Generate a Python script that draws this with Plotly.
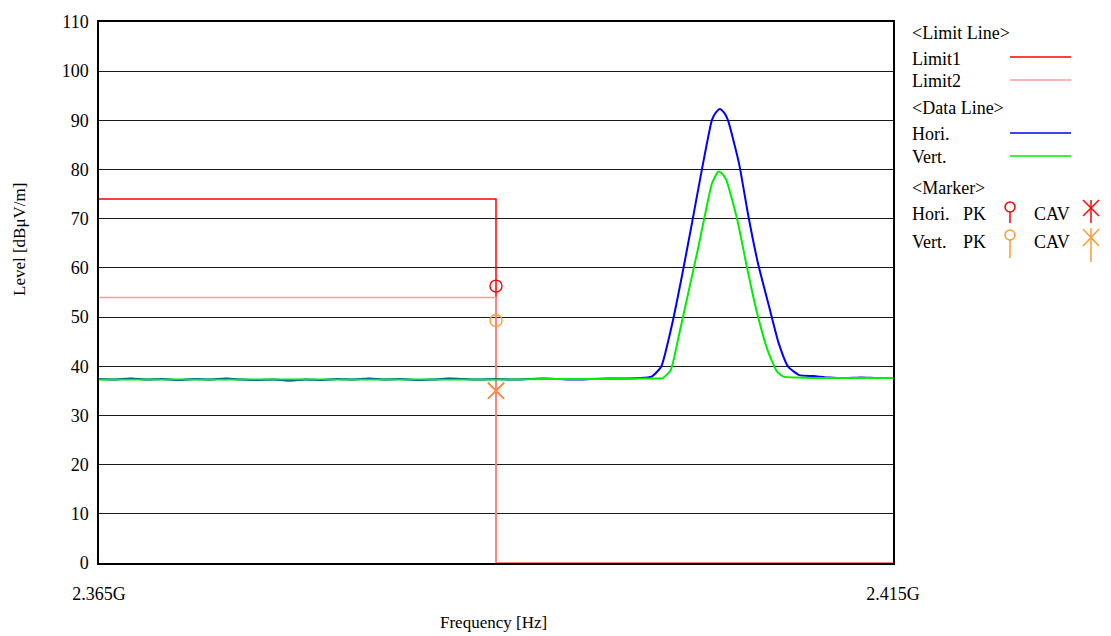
import plotly.graph_objects as go

# ---------------- data ----------------
hori_freq = [2.3650, 2.3660, 2.3670, 2.3680, 2.3690, 2.3700, 2.3710, 2.3720, 2.3730, 2.3740,
             2.3750, 2.3760, 2.3770, 2.3780, 2.3790, 2.3800, 2.3810, 2.3820, 2.3830, 2.3840,
             2.3850, 2.3860, 2.3870, 2.3880, 2.3890, 2.3900, 2.3910, 2.3920, 2.3930, 2.3940,
             2.3950, 2.3960, 2.3970, 2.3980, 2.3990, 2.3998, 2.4004, 2.4011, 2.4017, 2.4023,
             2.4030, 2.4036, 2.40385, 2.4041, 2.40435, 2.4046, 2.4053, 2.4059, 2.4065, 2.4072,
             2.4078, 2.4084, 2.4091, 2.4100, 2.4110, 2.4120, 2.4130, 2.4140, 2.4150]
hori_level = [37.4, 37.3, 37.5, 37.3, 37.4, 37.2, 37.4, 37.3, 37.5, 37.3,
              37.2, 37.3, 37.1, 37.3, 37.2, 37.4, 37.3, 37.5, 37.3, 37.4,
              37.2, 37.3, 37.5, 37.4, 37.3, 37.4, 37.3, 37.4, 37.5, 37.4,
              37.3, 37.4, 37.5, 37.5, 37.6, 37.9, 39.9, 48.7, 58.2, 68.4,
              80.6, 90.1, 91.6, 92.3, 91.6, 90.1, 81.3, 70.4, 60.9, 52.1,
              44.7, 39.9, 38.2, 38.0, 37.7, 37.6, 37.7, 37.6, 37.6]

vert_freq = [2.3650, 2.3670, 2.3690, 2.3710, 2.3730, 2.3750, 2.3770, 2.3790, 2.3810, 2.3830,
             2.3850, 2.3870, 2.3890, 2.3910, 2.3930, 2.3950, 2.3970, 2.3990, 2.4000, 2.4005,
             2.4010, 2.4015, 2.4021, 2.4027, 2.4034, 2.4036, 2.4040, 2.4042, 2.4045, 2.4052,
             2.4058, 2.4064, 2.4071, 2.4077, 2.4081, 2.4090, 2.4100, 2.4120, 2.4150]
vert_level = [37.3, 37.3, 37.3, 37.3, 37.3, 37.3, 37.3, 37.3, 37.3, 37.3,
              37.3, 37.3, 37.3, 37.3, 37.4, 37.4, 37.4, 37.5, 37.5, 37.6,
              39.2, 46.0, 54.8, 63.6, 74.5, 77.2, 79.6, 79.3, 77.9, 69.7,
              60.2, 51.4, 43.3, 38.9, 37.9, 37.7, 37.6, 37.6, 37.6]

limit_freq = [2.365, 2.390, 2.390, 2.415]
limit1_level = [74, 74, 0, 0]
limit2_level = [54, 54, 0, 0]

marker_freq = 2.390
hori_pk = 56.3
vert_pk = 49.3
hori_cav = 35.0
vert_cav = 35.0

x_ticks = [2.365, 2.415]
x_ticktext = ["2.365G", "2.415G"]

RED = "#ff0000"
PINK = "#ff9a9a"
BLUE = "#0000ff"
GREEN = "#00ee00"
ORANGE = "#ff9a33"
FONT = "Liberation Serif"

# ---------------- layout helpers (pixel -> paper) ----------------
L, R, T, B = 99, 893, 22, 563
def px(x):
    return (x - L) / (R - L)
def py(y):
    return (B - y) / (B - T)

fig = go.Figure()

fig.add_trace(go.Scatter(x=limit_freq, y=limit1_level, mode="lines",
                         line=dict(color=RED, width=1.5), showlegend=False, cliponaxis=False))
fig.add_trace(go.Scatter(x=limit_freq, y=limit2_level, mode="lines",
                         line=dict(color=PINK, width=1.5), showlegend=False, cliponaxis=False))
fig.add_trace(go.Scatter(x=hori_freq, y=hori_level, mode="lines",
                         line=dict(color=BLUE, width=2, shape="spline", smoothing=0.5),
                         showlegend=False))
fig.add_trace(go.Scatter(x=vert_freq, y=vert_level, mode="lines",
                         line=dict(color=GREEN, width=2, shape="spline", smoothing=0.5),
                         showlegend=False))

fig.add_trace(go.Scatter(x=[marker_freq], y=[hori_pk], mode="markers",
                         marker=dict(symbol="circle-open", size=12, color=RED, line=dict(width=1.4)),
                         showlegend=False))
fig.add_trace(go.Scatter(x=[marker_freq], y=[vert_pk], mode="markers",
                         marker=dict(symbol="circle-open", size=12, color=ORANGE, line=dict(width=1.4)),
                         showlegend=False))
fig.add_trace(go.Scatter(x=[marker_freq], y=[hori_cav], mode="markers",
                         marker=dict(symbol="x-thin-open", size=16, color=RED, line=dict(width=1.4, color=RED)),
                         showlegend=False))
fig.add_trace(go.Scatter(x=[marker_freq], y=[vert_cav], mode="markers",
                         marker=dict(symbol="x-thin-open", size=16, color=ORANGE, line=dict(width=1.4, color=ORANGE)),
                         showlegend=False))

# ---------------- custom legend ----------------
annotations = []
def txt(s, x, y, size=18, **kw):
    annotations.append(dict(text=s, x=px(x), y=py(y), xref="paper", yref="paper",
                            xanchor="left", yanchor="middle", showarrow=False,
                            font=dict(family=FONT, size=size, color="black"), **kw))

txt("&lt;Limit Line&gt;", 910, 33)
txt("Limit1", 910, 59)
txt("Limit2", 910, 81)
txt("&lt;Data Line&gt;", 910, 108)
txt("Hori.", 910, 134)
txt("Vert.", 910, 157)
txt("&lt;Marker&gt;", 910, 188)
txt("Hori.", 910, 214)
txt("PK", 961, 214)
txt("CAV", 1032, 214)
txt("Vert.", 910, 242)
txt("PK", 961, 242)
txt("CAV", 1032, 242)

shapes = []
def pline(x0, y0, x1, y1, color, w=1.5):
    shapes.append(dict(type="line", xref="paper", yref="paper",
                       x0=px(x0), y0=py(y0), x1=px(x1), y1=py(y1),
                       line=dict(color=color, width=w)))
def pcircle(cx, cy, r, color):
    shapes.append(dict(type="circle", xref="paper", yref="paper",
                       x0=px(cx - r), y0=py(cy + r), x1=px(cx + r), y1=py(cy - r),
                       line=dict(color=color, width=1.5)))

pline(1010, 57, 1071, 57, RED)
pline(1010, 80, 1071, 80, PINK)
pline(1010, 133, 1071, 133, BLUE)
pline(1010, 156, 1071, 156, GREEN)
# Hori PK / CAV
pcircle(1010, 207, 5, RED)
pline(1010, 212, 1010, 223, RED)
pline(1083, 200, 1099, 216, RED)
pline(1083, 216, 1099, 200, RED)
pline(1091, 200, 1091, 223, RED)
# Vert PK / CAV
pcircle(1010, 235, 5, ORANGE)
pline(1010, 240, 1010, 258, ORANGE)
pline(1083, 229, 1099, 246, ORANGE)
pline(1083, 246, 1099, 229, ORANGE)
pline(1091, 228, 1091, 262, ORANGE)

# axis titles
annotations.append(dict(text="Level [dBμV/m]", x=px(19), y=py(240), xref="paper", yref="paper",
                        textangle=-90, showarrow=False, xanchor="center", yanchor="middle",
                        font=dict(family=FONT, size=17, color="black")))
annotations.append(dict(text="Frequency [Hz]", x=px(493), y=py(622), xref="paper", yref="paper",
                        showarrow=False, xanchor="center", yanchor="middle",
                        font=dict(family=FONT, size=17, color="black")))

fig.update_layout(
    width=1111, height=636,
    margin=dict(l=L, r=1111 - R, t=T, b=636 - B, pad=0),
    paper_bgcolor="white", plot_bgcolor="white",
    showlegend=False,
    annotations=annotations,
    shapes=shapes,
    font=dict(family=FONT, size=18, color="black"),
)
fig.update_xaxes(range=[2.365, 2.415], tickvals=x_ticks, ticktext=x_ticktext,
                 showgrid=False, zeroline=False, showline=True, mirror=True,
                 linecolor="black", linewidth=1.5, ticks="", ticklabelstandoff=14,
                 tickfont=dict(family=FONT, size=18, color="black"), layer="below traces")
fig.update_yaxes(range=[0, 110], dtick=10, showgrid=True, gridcolor="#1a1a1a", gridwidth=1.3,
                 zeroline=False, showline=True, mirror=True, linecolor="black", linewidth=1.5,
                 ticks="", ticklabelstandoff=5,
                 tickfont=dict(family=FONT, size=18, color="black"), layer="below traces")

fig.write_html("out.html", config={"displayModeBar": False},
               post_script="document.body.style.margin='0px';document.body.style.overflow='hidden';")
